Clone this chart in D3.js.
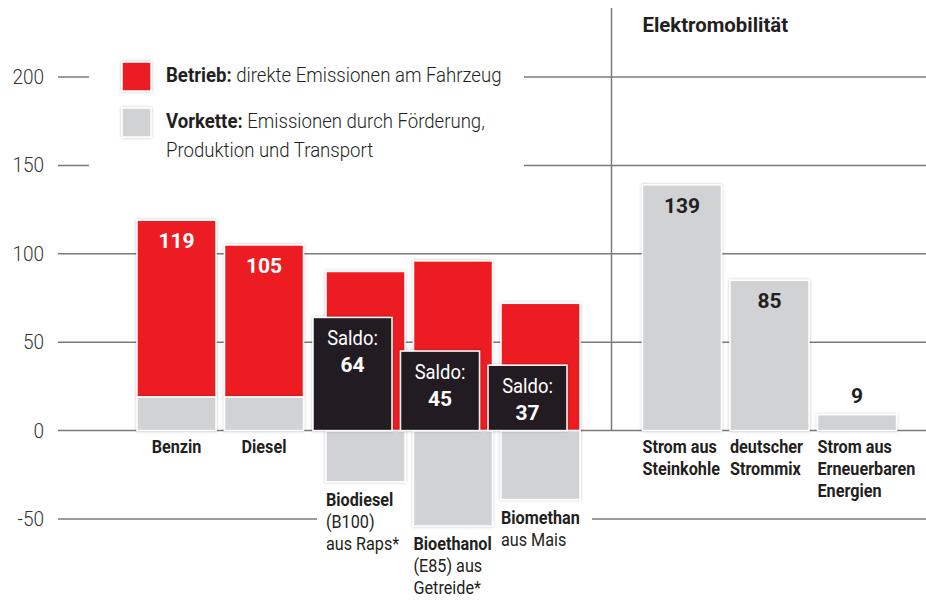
<!DOCTYPE html>
<html>
<head>
<meta charset="utf-8">
<script src="https://cdn.jsdelivr.net/npm/d3@7"></script>
<style>
body { margin: 0; background: #fff; }
svg { display: block; font-family: "Roboto", "Noto Sans", sans-serif; }
</style>
</head>
<body>
<svg id="chart" width="926" height="603"></svg>
<script>
// values in g CO2 per km
const categories = ["Benzin", "Diesel", "Biodiesel", "Bioethanol", "Biomethan",
  "Strom aus Steinkohle", "deutscher Strommix", "Strom aus Erneuerbaren Energien"];
const groups = ["fossil", "fossil", "bio", "bio", "bio", "elektro", "elektro", "elektro"];
const betrieb = [100, 86, 90, 96, 72, 0, 0, 0];
const vorkette = [19, 19, -29, -54, -39, 139, 85, 9];
const saldo = [null, null, 64, 45, 37, null, null, null];
const totals = [119, 105, null, null, null, 139, 85, 9];
const labelLines = [["Benzin"], ["Diesel"], ["Biodiesel", "(B100)", "aus Raps*"],
  ["Bioethanol", "(E85) aus", "Getreide*"], ["Biomethan", "aus Mais"],
  ["Strom aus", "Steinkohle"], ["deutscher", "Strommix"], ["Strom aus", "Erneuerbaren", "Energien"]];
const yTicks = [-50, 0, 50, 100, 150, 200];

const red = "#ed1c24", grey = "#d1d2d4", dark = "#231f20", gridc = "#7a7a7a";
const narrow = 0.9; // squeeze Roboto toward the condensed face of the original

const svg = d3.select("#chart");

const defs = svg.append("defs");
defs.append("filter").attr("id", "shadow")
  .attr("x", "-20%").attr("y", "-20%").attr("width", "140%").attr("height", "140%")
  .append("feDropShadow")
  .attr("dx", 0).attr("dy", 0).attr("stdDeviation", 1.6)
  .attr("flood-color", "#000").attr("flood-opacity", 0.25);

const y = d3.scaleLinear().domain([-50, 200]).range([519, 77]);
const band = d3.scaleBand().domain(categories).range([137, 828.5]).paddingInner(0.097).paddingOuter(0);
const groupShift = d3.scaleOrdinal().domain(["fossil", "bio", "elektro"]).range([0, 14, 68]);
const bx = (d, i) => band(d) + groupShift(groups[i]);
const bw = band.bandwidth();

// grid lines
svg.append("g").selectAll("line").data(yTicks).join("line")
  .attr("x1", 58).attr("x2", 926)
  .attr("y1", d => y(d)).attr("y2", d => y(d))
  .attr("stroke", gridc).attr("stroke-width", 1.5);

svg.append("g").selectAll("text").data(yTicks).join("text")
  .attr("transform", d => "translate(44," + (y(d) + 7) + ") scale(0.95,1)")
  .attr("text-anchor", "end")
  .attr("font-size", 20).attr("font-weight", 300)
  .attr("fill", "#333")
  .text(d => d);

// separator for Elektromobilitaet
const sepX = bx(categories[5], 5) - 31;
svg.append("line")
  .attr("x1", sepX).attr("x2", sepX).attr("y1", 8).attr("y2", y(0))
  .attr("stroke", gridc).attr("stroke-width", 1.5);

svg.append("text")
  .attr("transform", "translate(" + bx(categories[5], 5) + ",32) scale(0.97,1)")
  .attr("font-size", 21).attr("font-weight", "bold").attr("fill", dark)
  .text("Elektromobilität");

// knock-outs behind legend and bio labels
svg.append("rect").attr("x", 89).attr("y", 55).attr("width", 435).attr("height", 120).attr("fill", "#fff");
svg.append("rect").attr("x", bx(categories[2], 2) - 9).attr("y", 500)
  .attr("width", bx(categories[4], 4) + bw + 12 - (bx(categories[2], 2) - 9)).attr("height", 40).attr("fill", "#fff");

const idx = d3.range(categories.length);

// red bars (Betrieb)
svg.append("g").selectAll("rect").data(idx.filter(i => betrieb[i] > 0)).join("rect")
  .attr("x", i => bx(categories[i], i)).attr("width", bw)
  .attr("y", i => groups[i] === "fossil" ? y(vorkette[i] + betrieb[i]) : y(betrieb[i]))
  .attr("height", i => y(0) - y(betrieb[i]))
  .attr("fill", red).attr("stroke", "#fff").attr("stroke-width", 1.5)
  .attr("filter", "url(#shadow)");

// grey bars (Vorkette)
svg.append("g").selectAll("rect").data(idx).join("rect")
  .attr("x", i => bx(categories[i], i)).attr("width", bw)
  .attr("y", i => y(Math.max(0, vorkette[i])))
  .attr("height", i => Math.abs(y(vorkette[i]) - y(0)))
  .attr("fill", grey).attr("stroke", "#fff").attr("stroke-width", 1.5)
  .attr("filter", "url(#shadow)");

// Saldo boxes
const saldoIdx = idx.filter(i => saldo[i] != null);
const sg = svg.append("g").selectAll("g").data(saldoIdx).join("g")
  .attr("transform", i => "translate(" + (bx(categories[i], i) - 13) + ",0)");
sg.append("rect")
  .attr("y", i => y(saldo[i])).attr("width", bw).attr("height", i => y(0) - y(saldo[i]))
  .attr("fill", dark).attr("stroke", "#fff").attr("stroke-width", 1.5)
  .attr("filter", "url(#shadow)");
sg.append("text")
  .attr("transform", i => "translate(" + bw / 2 + "," + (y(saldo[i]) + 28) + ") scale(0.92,1)")
  .attr("text-anchor", "middle").attr("font-size", 20).attr("fill", "#fff")
  .text("Saldo:");
sg.append("text")
  .attr("transform", i => "translate(" + bw / 2 + "," + (y(saldo[i]) + 55) + ")")
  .attr("text-anchor", "middle").attr("font-size", 21).attr("font-weight", "bold").attr("fill", "#fff")
  .text(i => saldo[i]);

// value labels
svg.append("g").selectAll("text").data(idx.filter(i => totals[i] != null)).join("text")
  .attr("x", i => bx(categories[i], i) + bw / 2)
  .attr("y", i => totals[i] < 20 ? y(totals[i]) - 12 : y(totals[i]) + 28)
  .attr("text-anchor", "middle")
  .attr("font-size", 21).attr("font-weight", "bold")
  .attr("fill", i => groups[i] === "fossil" ? "#fff" : dark)
  .text(i => totals[i]);

// category labels
const lg = svg.append("g").selectAll("text").data(idx).join("text")
  .attr("font-size", 18).attr("fill", dark)
  .attr("text-anchor", i => groups[i] === "fossil" ? "middle" : "start")
  .attr("transform", i => {
    const x0 = groups[i] === "fossil" ? bx(categories[i], i) + bw / 2 : bx(categories[i], i);
    const y0 = vorkette[i] < 0 ? y(vorkette[i]) + 24 : y(0) + 22;
    return "translate(" + x0 + "," + y0 + ") scale(" + narrow + ",1)";
  });
lg.selectAll("tspan").data(i => labelLines[i].map((t, k) => ({t, k, g: groups[i]}))).join("tspan")
  .attr("x", 0).attr("y", d => d.k * 22)
  .attr("font-weight", d => (d.k === 0 || d.g === "elektro") ? "bold" : "normal")
  .text(d => d.t);

// legend
const legend = svg.append("g");
const legendItems = [
  {c: red, y: 62, b: "Betrieb:", t: ["direkte Emissionen am Fahrzeug"]},
  {c: grey, y: 108, b: "Vorkette:", t: ["Emissionen durch Förderung,", "Produktion und Transport"]}
];
legendItems.forEach(it => {
  legend.append("rect").attr("x", 122).attr("y", it.y).attr("width", 29).attr("height", 29)
    .attr("fill", it.c).attr("stroke", "#fff").attr("stroke-width", 1.5).attr("filter", "url(#shadow)");
  const t = legend.append("text").attr("transform", "translate(166," + (it.y + 20) + ") scale(0.93,1)")
    .attr("font-size", 20).attr("fill", dark);
  t.append("tspan").attr("font-weight", "bold").text(it.b + " ");
  t.append("tspan").attr("font-weight", 300).text(it.t[0]);
  if (it.t[1]) {
    legend.append("text").attr("transform", "translate(166," + (it.y + 49) + ") scale(0.93,1)")
      .attr("font-size", 20).attr("font-weight", 300).attr("fill", dark).text(it.t[1]);
  }
});
</script>
</body>
</html>
